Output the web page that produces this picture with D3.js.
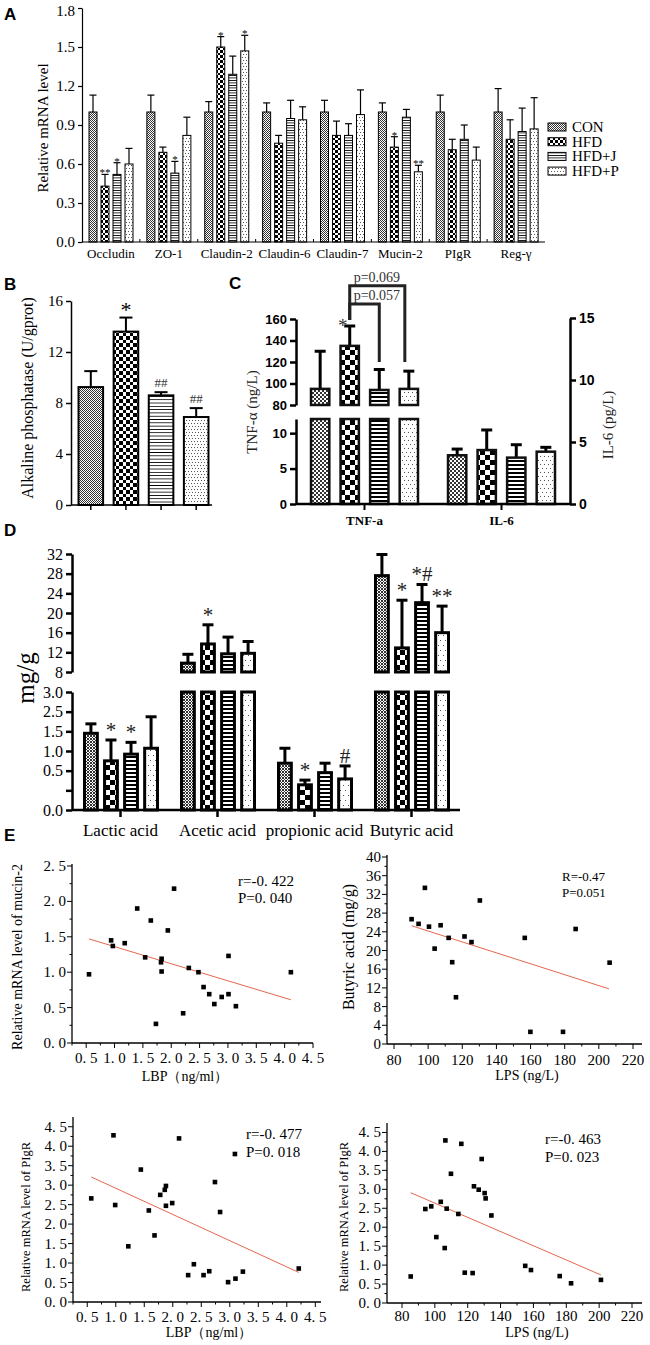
<!DOCTYPE html>
<html><head><meta charset="utf-8">
<script src="https://cdn.jsdelivr.net/npm/d3@7"></script>
<style>body{margin:0;background:#fff}</style>
</head><body><svg id="c" width="650" height="1345"></svg>
<script>
// ================= DATA =================
const groups = ["CON","HFD","HFD+J","HFD+P"];
// Panel A
const catsA = ["Occludin","ZO-1","Claudin-2","Claudin-6","Claudin-7","Mucin-2","PIgR","Reg-γ"];
const aCON = [1.00,1.00,1.00,1.00,1.00,1.00,1.00,1.00];
const aHFD = [0.43,0.69,1.50,0.76,0.82,0.73,0.71,0.79];
const aJ   = [0.52,0.53,1.29,0.95,0.82,0.96,0.79,0.85];
const aP   = [0.60,0.82,1.47,0.94,0.98,0.54,0.63,0.87];
const aSdCON = [0.13,0.13,0.08,0.07,0.09,0.07,0.13,0.18];
const aSdHFD = [0.09,0.04,0.08,0.06,0.11,0.08,0.08,0.15];
const aSdJ   = [0.09,0.09,0.14,0.14,0.09,0.06,0.11,0.18];
const aSdP   = [0.12,0.14,0.12,0.10,0.19,0.05,0.10,0.24];
const aSigHFD = ["**","","*","","","*","",""];
const aSigJ   = ["*","*","","","","","",""];
const aSigP   = ["","","*","","","**","",""];
const aTicks = [0,0.3,0.6,0.9,1.2,1.5,1.8];
// Panel B
const bMean = [9.25,13.6,8.6,6.9];
const bSd = [1.25,1.1,0.25,0.7];
const bSig = ["","*","##","##"];
const bTicks = [0,4,8,12,16];
// Panel C
const cCats = ["TNF-a","IL-6"];
const cTNF = [95,135,94,95];
const cTNFsd = [35,18.5,19,16.5];
const cIL6 = [3.93,4.35,3.74,4.22];
const cIL6sd = [0.5,1.62,1.04,0.35];
const cTopTicks = [80,100,120,140,160];
const cLowTicks = [0,5,10];
const cRightTicks = [0,5,10,15];
const cBrackets = [{to:"HFD+P", level:191, label:"p=0.069"},{to:"HFD+J", level:174, label:"p=0.057"}];
// Panel D
const dCats = ["Lactic acid","Acetic acid","propionic acid","Butyric acid"];
const dCON = [1.95,9.8,1.19,27.6];
const dHFD = [1.25,13.7,0.64,12.9];
const dJ   = [1.42,11.7,0.95,22.1];
const dP   = [1.57,11.8,0.79,16.0];
const dSdCON = [0.24,1.8,0.38,4.3];
const dSdHFD = [0.53,3.9,0.12,9.7];
const dSdJ   = [0.30,3.4,0.24,3.7];
const dSdP   = [0.80,2.4,0.33,5.4];
const dSigHFD = ["*","*","*","*"];
const dSigJ   = ["*","","","*#"];
const dSigP   = ["","","#","**"];
const dTopTicks = [8,12,16,20,24,28,32];
const dLowTicks = [0,0.5,1,1.5,2,2.5,3];
const dLowLabels = ["0.0","","0.5","1.0","1.5","2.5","3.0"];
// Panel E
const e1LBP = [0.55,0.94,0.97,1.18,1.40,1.54,1.64,1.73,1.83,1.82,1.83,1.94,2.05,2.21,2.31,2.48,2.57,2.67,2.76,2.89,3.01,3.01,3.14,4.11];
const e1Muc = [0.97,1.45,1.37,1.41,1.90,1.21,1.73,0.27,1.19,1.14,1.01,1.59,2.18,0.42,1.06,1.00,0.79,0.69,0.55,0.65,1.23,0.69,0.52,1.00];
const e1Fit = [[0.55,1.47],[4.11,0.61]];
const e2LPS = [90.3,94.4,98.1,100.5,103.8,107.3,112.0,114.1,116.3,121.3,125.4,130.3,156.6,186.4,206.3,159.9,179.0];
const e2But = [26.7,25.7,33.4,25.1,20.4,25.4,22.7,17.5,10.0,23.0,21.8,30.7,22.7,24.6,17.4,2.6,2.6];
const e2Fit = [[90.3,25.3],[205.9,11.8]];
const e3LBP = [0.57,0.96,0.99,1.22,1.44,1.58,1.68,1.78,1.86,1.88,1.88,1.99,2.11,2.27,2.37,2.54,2.64,2.74,2.83,2.97,3.09,3.10,3.23,4.21];
const e3PIgR = [2.66,4.28,2.49,1.43,3.40,2.35,1.71,2.75,2.88,2.98,2.47,2.54,4.20,0.69,0.97,0.69,0.79,3.08,2.31,0.51,3.80,0.60,0.78,0.86];
const e3Fit = [[0.57,3.21],[4.21,0.76]];
const e4LPS = [85.3,94.2,97.8,100.9,103.6,106.0,106.4,107.2,109.8,114.3,116.1,118.2,123.0,123.8,126.7,128.5,130.3,130.9,134.4,155.0,158.5,176.0,182.9,201.1];
const e4PIgR = [0.70,2.48,2.55,1.74,2.67,1.45,4.29,2.49,3.41,2.35,4.20,0.80,0.79,3.08,2.99,3.80,2.90,2.76,2.31,0.98,0.87,0.71,0.52,0.61];
const e4Fit = [[85.3,2.91],[201.1,0.74]];

// ================= SETUP =================
const svg = d3.select("#c");
svg.append("rect").attr("width",650).attr("height",1345).attr("fill","#fff");
const defs = svg.append("defs");
const SERIF = "'Liberation Serif','Times New Roman',serif";
const SANS = "'Liberation Sans',Arial,sans-serif";
const pKey = {"CON":"CON","HFD":"HFD","HFD+J":"J","HFD+P":"P"};
const fillOf = (gr,k)=>`url(#${pKey[gr]}${k})`;

function makePatterns(k, s){
  const mk=(n,w,h)=>{const p=defs.append("pattern").attr("id",n+k).attr("patternUnits","userSpaceOnUse")
      .attr("width",w).attr("height",h).attr("shape-rendering","crispEdges");
    p.append("rect").attr("width",w).attr("height",h).attr("fill","#fff"); return p;};
  let p=mk("CON",2*s.c,2*s.c);
  p.append("rect").attr("width",s.c).attr("height",s.c).attr("fill","#333");
  p.append("rect").attr("x",s.c).attr("y",s.c).attr("width",s.c).attr("height",s.c).attr("fill","#333");
  p=mk("HFD",2*s.h,2*s.h);
  p.append("rect").attr("width",s.h).attr("height",s.h).attr("fill","#000");
  p.append("rect").attr("x",s.h).attr("y",s.h).attr("width",s.h).attr("height",s.h).attr("fill","#000");
  p=mk("J",4,s.j);
  p.append("rect").attr("width",4).attr("height",s.jl).attr("fill","#000");
  p=mk("P",s.p,s.p*2);
  p.append("rect").attr("width",1).attr("height",1).attr("fill","#555");
  p.append("rect").attr("x",s.p/2).attr("y",s.p).attr("width",1).attr("height",1).attr("fill","#555");
}
function err(g,cx,y1,y2,cap,sw){
  g.append("line").attr("x1",cx).attr("x2",cx).attr("y1",y1).attr("y2",y2).attr("stroke","#000").attr("stroke-width",sw);
  g.append("line").attr("x1",cx-cap/2).attr("x2",cx+cap/2).attr("y1",y2).attr("y2",y2).attr("stroke","#000").attr("stroke-width",sw);
}
function txt(g,x,y,s,font,size,opt={}){
  const t=g.append("text").attr("x",x).attr("y",y).attr("font-family",font).attr("font-size",size)
    .attr("text-anchor",opt.anchor||"middle").attr("font-weight",opt.weight||"normal").attr("fill",opt.fill||"#000").text(s);
  if(opt.rot) t.attr("x",null).attr("y",null).attr("transform",`translate(${x},${y}) rotate(-90)`);
  return t;
}
function styleAxis(g,font,size,weight,sw){
  g.attr("font-family",font).attr("font-size",size).attr("font-weight",weight||"normal");
  g.selectAll("path,line").attr("stroke","#000").attr("stroke-width",sw||1);
  g.selectAll("text").attr("fill","#000");
}
makePatterns("a",{c:1,h:2.5,j:2.5,jl:1,p:3});
makePatterns("b",{c:1,h:3.5,j:3.3,jl:1.2,p:3});
makePatterns("c",{c:2,h:5,j:4,jl:1.5,p:4});
makePatterns("d",{c:1.5,h:5,j:4,jl:1.6,p:5});

// panel letters
[["A",4,20],["B",4,290],["C",229,289],["D",4,536],["E",4,841]].forEach(([l,x,y])=>txt(svg,x,y,l,SANS,17,{anchor:"start",weight:"bold"}));

// ================= PANEL A =================
{
  const aMean={"CON":aCON,"HFD":aHFD,"HFD+J":aJ,"HFD+P":aP};
  const aSd={"CON":aSdCON,"HFD":aSdHFD,"HFD+J":aSdJ,"HFD+P":aSdP};
  const aSig={"CON":catsA.map(()=>""),"HFD":aSigHFD,"HFD+J":aSigJ,"HFD+P":aSigP};
  const g=svg.append("g");
  const y=d3.scaleLinear().domain([0,1.8]).range([242,8]);
  const x=d3.scaleBand().domain(catsA).range([82,545]);
  const xs=d3.scaleBand().domain(groups).range([7,51]).paddingInner(1/3);
  groups.forEach(gr=>catsA.forEach((c,i)=>{
    const v=aMean[gr][i], s=aSd[gr][i], bx=x(c)+xs(gr), bw=xs.bandwidth(), cx=bx+bw/2;
    err(g,cx,y(v),y(v+s),7,1.2);
    g.append("rect").attr("x",bx).attr("y",y(v)).attr("width",bw).attr("height",y(0)-y(v))
      .attr("fill",fillOf(gr,"a")).attr("stroke","#000").attr("stroke-width",1);
    if(aSig[gr][i]) txt(g,cx,y(v+s)+2,aSig[gr][i],SERIF,11);
  }));
  const ax=g.append("g").attr("transform","translate(82,0)")
    .call(d3.axisLeft(y).tickValues(aTicks).tickFormat(d3.format(".1f")).tickSize(4).tickSizeOuter(0));
  styleAxis(ax,SERIF,15,"normal",1.2);
  ax.selectAll(".tick").filter(d=>d===1.8).select("text").attr("dy","0.5em");
  g.append("line").attr("x1",82).attr("x2",545).attr("y1",y(0)).attr("y2",y(0)).attr("stroke","#000").attr("stroke-width",1.2);
  catsA.forEach((c,i)=>{
    if(i>0) g.append("line").attr("x1",x(c)).attr("x2",x(c)).attr("y1",y(0)).attr("y2",y(0)-3).attr("stroke","#000");
    txt(g,x(c)+x.bandwidth()/2,258,c,SERIF,13);
  });
  txt(g,48,128,"Relative mRNA level",SERIF,15,{rot:true});
  groups.forEach((gr,i)=>{
    const ly=127+i*14.7;
    g.append("rect").attr("x",548).attr("y",ly-4).attr("width",18).attr("height",8).attr("fill",fillOf(gr,"a")).attr("stroke","#000").attr("stroke-width",1);
    txt(g,572,ly+5,gr,SERIF,15,{anchor:"start"});
  });
}

// ================= PANEL B =================
{
  const g=svg.append("g");
  const y=d3.scaleLinear().domain([0,16]).range([505,301]);
  const x=d3.scaleBand().domain(groups).range([75,212]).paddingInner(0.3).paddingOuter(0.1);
  groups.forEach((gr,i)=>{
    const v=bMean[i], s=bSd[i], bx=x(gr), bw=x.bandwidth(), cx=bx+bw/2;
    err(g,cx,y(v),y(v+s),13,2);
    g.append("rect").attr("x",bx).attr("y",y(v)).attr("width",bw).attr("height",y(0)-y(v))
      .attr("fill",fillOf(gr,"b")).attr("stroke","#000").attr("stroke-width",2);
    if(bSig[i]==="*") txt(g,cx,y(v+s)-1,"*",SERIF,22);
    else if(bSig[i]) txt(g,cx,y(v+s)-5,bSig[i],SERIF,13,{fill:"#333"});
  });
  const ax=g.append("g").attr("transform","translate(71,0)")
    .call(d3.axisLeft(y).tickValues(bTicks).tickSize(5).tickSizeOuter(0));
  styleAxis(ax,SERIF,15,"normal",1.5);
  g.append("line").attr("x1",71).attr("x2",212).attr("y1",y(0)).attr("y2",y(0)).attr("stroke","#000").attr("stroke-width",1.5);
  groups.forEach(gr=>{const cx=x(gr)+x.bandwidth()/2;
    g.append("line").attr("x1",cx).attr("x2",cx).attr("y1",y(0)).attr("y2",y(0)+5).attr("stroke","#000").attr("stroke-width",1.5);});
  txt(g,33,398,"Alkaline phosphatase (U/gprot)",SERIF,16,{rot:true});
}

// ================= PANEL C =================
{
  const g=svg.append("g");
  const yT=d3.scaleLinear().domain([80,160]).range([405,319]);
  const yL=d3.scaleLinear().domain([0,12]).range([504,419]);
  const yR=d3.scaleLinear().domain([0,15]).range([504,318]);
  const x=d3.scaleBand().domain(cCats).range([296,570]);
  const xs=d3.scaleBand().domain(groups).range([15,122]).paddingInner(0.38);
  const bw=xs.bandwidth();
  const cxOf=(c,gr)=>x(c)+xs(gr)+bw/2;
  groups.forEach((gr,i)=>{
    let bx=x("TNF-a")+xs(gr), v=cTNF[i], s=cTNFsd[i];
    err(g,bx+bw/2,yT(v),yT(v+s),11,3);
    g.append("rect").attr("x",bx).attr("y",yT(v)).attr("width",bw).attr("height",yT(80)-yT(v))
      .attr("fill",fillOf(gr,"c")).attr("stroke","#111").attr("stroke-width",2.5);
    g.append("rect").attr("x",bx).attr("y",yL(12)).attr("width",bw).attr("height",yL(0)-yL(12))
      .attr("fill",fillOf(gr,"c")).attr("stroke","#111").attr("stroke-width",2.5);
    bx=x("IL-6")+xs(gr); v=cIL6[i]; s=cIL6sd[i];
    err(g,bx+bw/2,yR(v),yR(v+s),11,3);
    g.append("rect").attr("x",bx).attr("y",yR(v)).attr("width",bw).attr("height",yR(0)-yR(v))
      .attr("fill",fillOf(gr,"c")).attr("stroke","#111").attr("stroke-width",2.5);
  });
  const hx=cxOf("TNF-a","HFD");
  cBrackets.forEach((b,k)=>{
    const tx=cxOf("TNF-a",b.to)-(k===0?4:0);
    g.append("path").attr("d",`M${hx},${yT(159)}V${yT(b.level)}H${tx}V${yT(120)}`)
      .attr("fill","none").attr("stroke","#222").attr("stroke-width",3);
    txt(g,hx+4,yT(b.level)-4,b.label,SERIF,14,{anchor:"start",fill:"#333"});
  });
  txt(g,hx-7,yT(cTNF[1]+cTNFsd[1])+6,"*",SERIF,19,{fill:"#333"});
  const aT=g.append("g").attr("transform","translate(296,0)").call(d3.axisLeft(yT).tickValues(cTopTicks).tickSize(6).tickSizeOuter(0));
  const aL=g.append("g").attr("transform","translate(296,0)").call(d3.axisLeft(yL).tickValues(cLowTicks).tickSize(6).tickSizeOuter(0));
  const aR=g.append("g").attr("transform","translate(570,0)").call(d3.axisRight(yR).tickValues(cRightTicks).tickSize(6).tickSizeOuter(0));
  [aT,aL,aR].forEach(a=>styleAxis(a,SANS,14,"bold",2.5));
  aT.attr("font-size",13); aL.attr("font-size",13);
  g.append("line").attr("x1",296).attr("x2",570).attr("y1",504).attr("y2",504).attr("stroke","#000").attr("stroke-width",2.5);
  cCats.forEach(c=>{const cx=x(c)+x.bandwidth()/2;
    g.append("line").attr("x1",cx).attr("x2",cx).attr("y1",504).attr("y2",510).attr("stroke","#000").attr("stroke-width",2);
    txt(g,cx,525,c,SERIF,13,{weight:"bold"});});
  txt(g,257,412,"TNF-α  (ng/L)",SERIF,15,{rot:true,fill:"#222"});
  txt(g,613,425,"IL-6  (pg/L)",SERIF,15,{rot:true,fill:"#222"});
}

// ================= PANEL D =================
{
  const dMean={"CON":dCON,"HFD":dHFD,"HFD+J":dJ,"HFD+P":dP};
  const dSd={"CON":dSdCON,"HFD":dSdHFD,"HFD+J":dSdJ,"HFD+P":dSdP};
  const dSig={"CON":dCats.map(()=>""),"HFD":dSigHFD,"HFD+J":dSigJ,"HFD+P":dSigP};
  const g=svg.append("g");
  const yT=d3.scaleLinear().domain([8,32]).range([672,554]);
  const yL=d3.scaleLinear().domain([0,3]).range([810,692]);
  const x=d3.scaleBand().domain(dCats).range([72,460]);
  const xs=d3.scaleBand().domain(groups).range([12.5,85.5]).paddingInner(0.36);
  const bw=xs.bandwidth();
  groups.forEach(gr=>dCats.forEach((c,i)=>{
    const v=dMean[gr][i], s=dSd[gr][i], bx=x(c)+xs(gr), cx=bx+bw/2;
    let et;
    if(v>3){
      et=yT(v+s);
      err(g,cx,yT(v),et,11,3);
      g.append("rect").attr("x",bx).attr("y",yT(v)).attr("width",bw).attr("height",yT(8)-yT(v))
        .attr("fill",fillOf(gr,"d")).attr("stroke","#000").attr("stroke-width",3);
      g.append("rect").attr("x",bx).attr("y",yL(3)).attr("width",bw).attr("height",yL(0)-yL(3))
        .attr("fill",fillOf(gr,"d")).attr("stroke","#000").attr("stroke-width",3);
    } else {
      et=yL(v+s);
      err(g,cx,yL(v),et,11,3);
      g.append("rect").attr("x",bx).attr("y",yL(v)).attr("width",bw).attr("height",yL(0)-yL(v))
        .attr("fill",fillOf(gr,"d")).attr("stroke","#000").attr("stroke-width",3);
    }
    if(dSig[gr][i]) txt(g,cx,et-3,dSig[gr][i],SERIF,21,{fill:"#222"});
  }));
  const aT=g.append("g").attr("transform","translate(72,0)").call(d3.axisLeft(yT).tickValues(dTopTicks).tickSize(6).tickSizeOuter(0));
  const aL=g.append("g").attr("transform","translate(72,0)").call(d3.axisLeft(yL).tickValues(dLowTicks).tickFormat((d,i)=>dLowLabels[i]).tickSize(6).tickSizeOuter(0));
  [aT,aL].forEach(a=>styleAxis(a,SERIF,16,"normal",2.5));
  g.append("line").attr("x1",72).attr("x2",460).attr("y1",810).attr("y2",810).attr("stroke","#000").attr("stroke-width",2.5);
  dCats.forEach(c=>{const cx=x(c)+x.bandwidth()/2;
    g.append("line").attr("x1",cx).attr("x2",cx).attr("y1",810).attr("y2",817).attr("stroke","#000").attr("stroke-width",2.5);
    txt(g,cx,836,c,SERIF,17);});
  txt(g,34,678,"mg/g",SERIF,25,{rot:true});
}

// ================= PANEL E =================
function scatter(c){
  const g=svg.append("g");
  const x=c.x, y=c.y, ax=c.axisX, ay=y.range()[0];
  g.append("line").attr("x1",ax).attr("x2",c.xEnd).attr("y1",ay).attr("y2",ay).attr("stroke","#000").attr("stroke-width",1.3);
  g.append("line").attr("x1",ax).attr("x2",ax).attr("y1",ay).attr("y2",c.yTop).attr("stroke","#000").attr("stroke-width",1.3);
  c.yMinor.forEach(v=>g.append("line").attr("x1",ax-2.5).attr("x2",ax).attr("y1",y(v)).attr("y2",y(v)).attr("stroke","#000"));
  c.xMinor.forEach(v=>g.append("line").attr("x1",x(v)).attr("x2",x(v)).attr("y1",ay).attr("y2",ay+2.5).attr("stroke","#000"));
  c.yTicks.forEach(v=>{g.append("line").attr("x1",ax-5).attr("x2",ax).attr("y1",y(v)).attr("y2",y(v)).attr("stroke","#000");
    txt(g,ax-6,y(v)+5,c.fy(v),SERIF,c.yfs,{anchor:"end"});});
  c.xTicks.forEach(v=>{g.append("line").attr("x1",x(v)).attr("x2",x(v)).attr("y1",ay).attr("y2",ay+5).attr("stroke","#000");
    txt(g,x(v),c.xLabY,c.fx(v),SERIF,c.xfs);});
  g.append("line").attr("x1",x(c.fit[0][0])).attr("y1",y(c.fit[0][1])).attr("x2",x(c.fit[1][0])).attr("y2",y(c.fit[1][1]))
    .attr("stroke","#e5674f").attr("stroke-width",1);
  c.xs.forEach((xv,i)=>g.append("rect").attr("x",x(xv)-2.3).attr("y",y(c.ys[i])-2.3).attr("width",4.6).attr("height",4.6).attr("fill","#000"));
  c.stat.forEach((s,i)=>txt(g,c.statX,c.statY+i*c.statDy,s,SERIF,c.statFs,{anchor:"start"}));
  txt(g,c.xlabX,c.xlabY,c.xlab,SERIF,14);
  txt(g,c.ylabX,c.ylabY,c.ylab,SERIF,c.ylabFs,{rot:true});
}
const fDot = d=>d.toFixed(1).replace(".",". ");
scatter({x:d3.scaleLinear().domain([0.25,4.5]).range([72,313]), y:d3.scaleLinear().domain([0,2.5]).range([1043,866]),
  axisX:72, xEnd:313, yTop:864,
  xTicks:d3.range(0.5,4.51,0.5), xMinor:d3.range(0.25,4.5,0.5), yTicks:d3.range(0,2.51,0.5), yMinor:d3.range(0.25,2.5,0.5),
  fx:fDot, fy:fDot, xfs:15, yfs:15, xLabY:1063,
  xs:e1LBP, ys:e1Muc, fit:e1Fit, stat:["r=-0. 422","P=0. 040"], statX:238, statY:886, statDy:17, statFs:15,
  xlab:"LBP（ng/ml）", xlabX:185, xlabY:1081, ylab:"Relative mRNA level of mucin-2", ylabX:22, ylabY:957, ylabFs:14});
scatter({x:d3.scaleLinear().domain([80,220]).range([394,633]), y:d3.scaleLinear().domain([0,40]).range([1044,857]),
  axisX:387, xEnd:642, yTop:855,
  xTicks:d3.range(80,221,20), xMinor:d3.range(90,220,20), yTicks:d3.range(0,41,4), yMinor:d3.range(2,40,4),
  fx:d=>String(d), fy:d=>String(d), xfs:15, yfs:15, xLabY:1065,
  xs:e2LPS, ys:e2But, fit:e2Fit, stat:["R=-0.47","P=0.051"], statX:562, statY:881, statDy:16, statFs:13,
  xlab:"LPS (ng/L)", xlabX:527, xlabY:1080, ylab:"Butyric acid (mg/g)", ylabX:354, ylabY:947, ylabFs:16});
scatter({x:d3.scaleLinear().domain([0.25,4.6]).range([73,321]), y:d3.scaleLinear().domain([0,4.75]).range([1302,1117]),
  axisX:73, xEnd:321, yTop:1117,
  xTicks:d3.range(0.5,4.51,0.5), xMinor:d3.range(0.25,4.6,0.5), yTicks:d3.range(0,4.51,0.5), yMinor:d3.range(0.25,4.75,0.5),
  fx:fDot, fy:fDot, xfs:15, yfs:15, xLabY:1322,
  xs:e3LBP, ys:e3PIgR, fit:e3Fit, stat:["r=-0. 477","P=0. 018"], statX:246, statY:1139, statDy:18, statFs:15,
  xlab:"LBP（ng/ml）", xlabX:209, xlabY:1337, ylab:"Relative mRNA level of PIgR", ylabX:30, ylabY:1217, ylabFs:12.5});
scatter({x:d3.scaleLinear().domain([80,220]).range([402,632]), y:d3.scaleLinear().domain([0,4.75]).range([1303,1123]),
  axisX:387, xEnd:642, yTop:1123,
  xTicks:d3.range(80,221,20), xMinor:d3.range(90,220,20), yTicks:d3.range(0,4.51,0.5), yMinor:d3.range(0.25,4.75,0.5),
  fx:d=>String(d), fy:fDot, xfs:15, yfs:15, xLabY:1321,
  xs:e4LPS, ys:e4PIgR, fit:e4Fit, stat:["r=-0. 463","P=0. 023"], statX:545, statY:1144, statDy:18, statFs:15,
  xlab:"LPS (ng/L)", xlabX:537, xlabY:1337, ylab:"Relative mRNA level of PIgR", ylabX:348, ylabY:1217, ylabFs:12.5});
</script>
</body></html>
